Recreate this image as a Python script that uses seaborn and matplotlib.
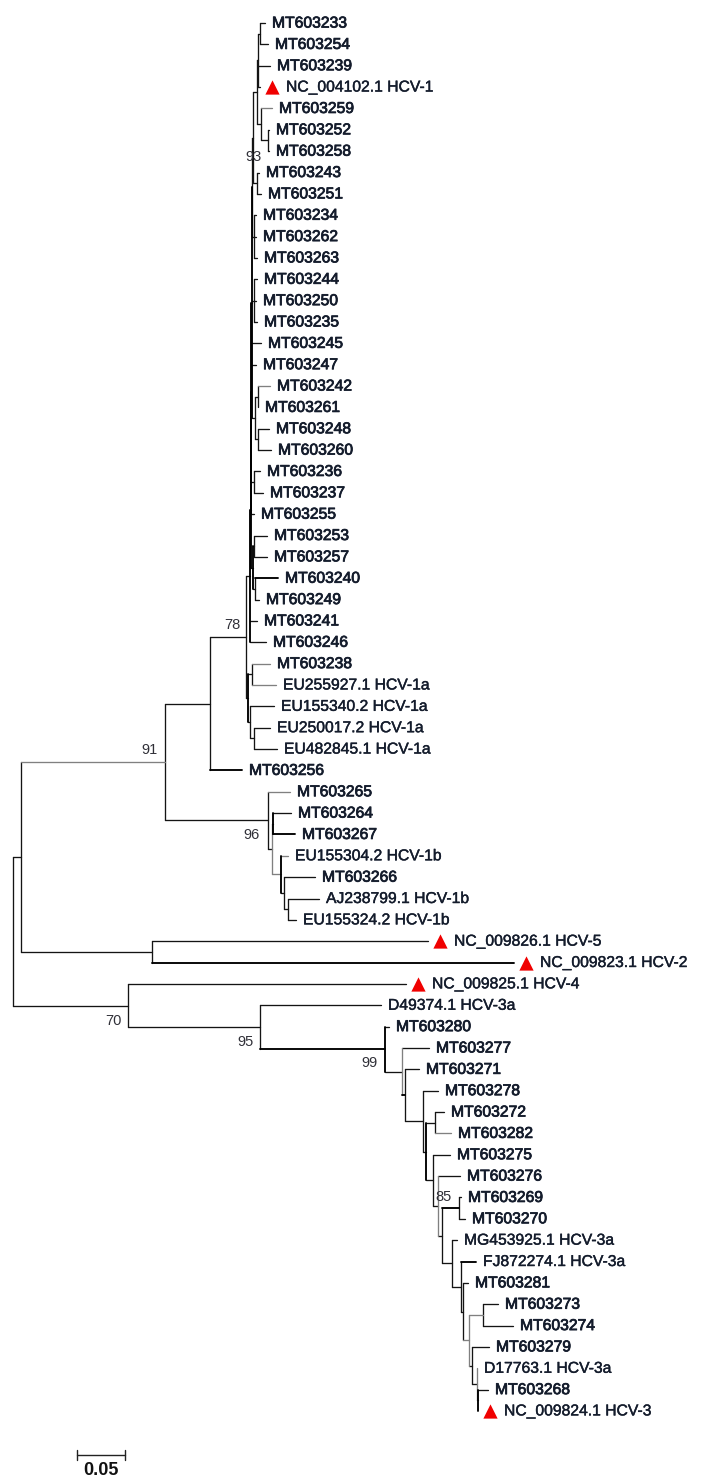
import pandas as pd
import seaborn as sns
import matplotlib.pyplot as plt
import matplotlib.patheffects as pe

# tree depth is counted in units of 0.05/48 substitutions per site, root = 0
UNIT = 0.05 / 48

tip_labels = ['MT603233', 'MT603254', 'MT603239', 'NC_004102.1 HCV-1', 'MT603259', 'MT603252', 'MT603258',
              'MT603243', 'MT603251', 'MT603234', 'MT603262', 'MT603263', 'MT603244', 'MT603250', 'MT603235',
              'MT603245', 'MT603247', 'MT603242', 'MT603261', 'MT603248', 'MT603260', 'MT603236', 'MT603237',
              'MT603255', 'MT603253', 'MT603257', 'MT603240', 'MT603249', 'MT603241', 'MT603246', 'MT603238',
              'EU255927.1 HCV-1a', 'EU155340.2 HCV-1a', 'EU250017.2 HCV-1a', 'EU482845.1 HCV-1a', 'MT603256',
              'MT603265', 'MT603264', 'MT603267', 'EU155304.2 HCV-1b', 'MT603266', 'AJ238799.1 HCV-1b',
              'EU155324.2 HCV-1b', 'NC_009826.1 HCV-5', 'NC_009823.1 HCV-2', 'NC_009825.1 HCV-4',
              'D49374.1 HCV-3a', 'MT603280', 'MT603277', 'MT603271', 'MT603278', 'MT603272', 'MT603282',
              'MT603275', 'MT603276', 'MT603269', 'MT603270', 'MG453925.1 HCV-3a', 'FJ872274.1 HCV-3a',
              'MT603281', 'MT603273', 'MT603274', 'MT603279', 'D17763.1 HCV-3a', 'MT603268',
              'NC_009824.1 HCV-3']
tip_depth = [252, 255, 257, 247, 259, 256, 256,
             246, 248, 243, 243, 244, 244, 243, 244,
             248, 243, 257, 245, 256, 258, 247, 250,
             241, 254, 254, 265, 246, 244, 253, 257,
             263, 261, 257, 264, 229,
             277, 278, 282, 275, 302, 306,
             283, 415, 501, 393,
             368, 376, 416, 406, 425, 431, 438,
             437, 447, 448, 452, 444, 463,
             455, 485, 500, 476, 464, 475,
             465]
tip_parent = ['n0', 'n0', 'a1', 'a1', 'a2', 'n56', 'n56',
              'b', 'b', 'n911', 'n911', 'n911', 'n1214', 'n1214', 'n1214',
              'n4', 'n4', 'n1718', 'n1718', 'n1920', 'n1920', 'n2122', 'n2122',
              'n2a', 'n2425', 'n2425', 'n2627', 'n2627', 's250', 's250', 'n3031',
              'n3031', 'n3234', 'n3334', 'n3334', 'n210',
              'n96', 'n3738', 'n3738', 'n281', 'n284', 'n288',
              'n288', 'n152', 'n152', 'n70',
              'n260', 'n99', 'n402', 'n405', 'n424', 'n435', 'n435',
              'n433', 'n437', 'n459', 'n459', 'n452', 'n461',
              'n463', 'n483', 'n483', 'n472', 'n477', 'n478',
              'n478']

node_names = ['root', 'n21', 'n152', 'n91', 'n210', 'n78', 's250', 'n2', 'n2a', 'n3', 'n4', 'n5', 't93',
              'a', 'b', 'a1', 'n0', 'a2', 'n56', 'n911', 'n1214', 'n1720', 'n1718', 'n1920', 'n2122',
              'n2427', 'n2425', 'n2627', 'n1a', 'n3031', 'n3234', 'n3334', 'n96', 'n272', 'n3738',
              'n281', 'n284', 'n288', 'n70', 'n260', 'n99', 'n402', 'n405', 'n424', 'n426', 'n435',
              'n433', 'n437', 'n442', 'n459', 'n452', 'n461', 'n463', 'n469', 'n483', 'n472', 'n477',
              'n478']
node_depth = [0, 8, 139, 152, 197, 233, 237, 238, 238, 238, 239, 239, 240,
              244, 244, 245, 247, 248, 255, 241, 241, 242, 245, 245, 241,
              240, 241, 242, 235, 239, 237, 241, 255, 259, 260,
              268, 271, 275, 115, 247, 372, 389, 392, 410, 413, 422,
              420, 425, 429, 446, 439, 448, 450, 456, 470, 459, 464,
              465]
node_parent = ['', 'root', 'n21', 'n21', 'n91', 'n210', 'n78', 's250', 'n2', 'n2a', 'n3', 'n4', 'n5',
               't93', 't93', 'a', 'a1', 'a', 'a2', 'n5', 'n4', 'n4', 'n1720', 'n1720', 'n3',
               'n2', 'n2427', 'n2427', 'n78', 'n1a', 'n1a', 'n3234', 'n91', 'n96', 'n272',
               'n272', 'n281', 'n284', 'root', 'n70', 'n260', 'n99', 'n402', 'n405', 'n424', 'n426',
               'n426', 'n433', 'n437', 'n442', 'n442', 'n452', 'n461', 'n463', 'n469', 'n469', 'n472',
               'n477']

support_nodes = ['t93', 'n78', 'n91', 'n96', 'n70', 'n260', 'n99', 'n437']
support_values = ['93', '78', '91', '96', '70', '95', '99', '85']
support_shift = [(0, -19), (-14, 12), (-16, 12), (-16, -15), (-15, -15), (-14, -15), (-15, -14), (5, 9)]

triangle_tips = ['NC_004102.1 HCV-1', 'NC_009826.1 HCV-5', 'NC_009823.1 HCV-2', 'NC_009825.1 HCV-4',
                 'NC_009824.1 HCV-3']

# slightly heavier or paler strokes seen in the picture
heavy_stems = ['s250', 'n2', 'n2a', 'n3', 'n4', 'n1a', 'n281', 'n3738', 'n99', 'n426', 'n478', 'n2427']
heavy_branches = ['MT603256', 'NC_009823.1 HCV-2', 'n99', 'n459', 'n405', 'MT603267', 'MT603240',
                  'FJ872274.1 HCV-3a']
pale_stems = ['n272', 'n469', 'n477', 'n402', 'n437']
pale_branches = ['MT603259', 'MT603242', 'MT603238', 'EU255927.1 HCV-1a', 'MT603265', 'EU155304.2 HCV-1b',
                 'n281', 'n469', 'n483', 'MT603282', 'n91']

sns.set_theme(style='white')
plt.rcParams['font.family'] = ['Liberation Sans', 'DejaVu Sans']

# row position of every clade: midpoint of its first and last child
depth_of = dict(zip(node_names, node_depth))
row_of = {}
for i, label in enumerate(tip_labels):
    row_of[label] = i


def children(name):
    kids = [n for n, p in zip(node_names, node_parent) if p == name]
    kids += [t for t, p in zip(tip_labels, tip_parent) if p == name]
    return kids


def node_row(name):
    if name in row_of:
        return row_of[name]
    rows = [node_row(k) for k in children(name)]
    row_of[name] = (min(rows) + max(rows)) / 2
    return row_of[name]


node_row('root')

segments = []
seg_id = 0
for name in node_names:
    kids = children(name)
    rows = [row_of[k] for k in kids]
    shade = 'heavy' if name in heavy_stems else 'pale' if name in pale_stems else 'normal'
    d = depth_of[name]
    segments += [{'x': d * UNIT, 'y': min(rows), 'seg': seg_id, 'shade': shade},
                 {'x': d * UNIT, 'y': max(rows), 'seg': seg_id, 'shade': shade}]
    seg_id += 1
    for k in kids:
        end = depth_of[k] if k in depth_of else tip_depth[tip_labels.index(k)]
        shade = 'heavy' if k in heavy_branches else 'pale' if k in pale_branches else 'normal'
        segments += [{'x': d * UNIT, 'y': row_of[k], 'seg': seg_id, 'shade': shade},
                     {'x': end * UNIT, 'y': row_of[k], 'seg': seg_id, 'shade': shade}]
        seg_id += 1

tree = pd.DataFrame(segments)

fig = plt.figure(figsize=(7.01, 14.84), dpi=100)
ax = fig.add_axes([0, 0, 1, 1])

shade_styles = [('normal', '#141414', 0.95), ('pale', '#808080', 0.95), ('heavy', '#000000', 1.35)]
for shade, colour, width in shade_styles:
    sns.lineplot(data=tree[tree['shade'] == shade], x='x', y='y', units='seg', estimator=None, sort=False,
                 color=colour, linewidth=width, legend=False, ax=ax)

# reference genomes carry a red triangle
tri = pd.DataFrame({'x': [(tip_depth[tip_labels.index(t)] + 12) * UNIT for t in triangle_tips],
                    'y': [row_of[t] for t in triangle_tips]})
sns.scatterplot(data=tri, x='x', y='y', marker='^', s=105, color='#f00000', linewidth=0, legend=False, ax=ax)

for label, d in zip(tip_labels, tip_depth):
    shift = 26 if label in triangle_tips else 7
    t = ax.text((d + shift) * UNIT, row_of[label], label, fontsize=11.3, va='center', ha='left', color='#141c2c')
    # the source text is a soft semi-bold, heavier on the MT names
    stroke = 0.55 if label.startswith('MT') else 0.3
    t.set_path_effects([pe.withStroke(linewidth=stroke, foreground='#141c2c')])

for name, value, (dx, dy) in zip(support_nodes, support_values, support_shift):
    ax.annotate(value, (depth_of[name] * UNIT, row_of[name]), xytext=(dx, dy), textcoords='offset pixels',
                fontsize=10.5, color='#303038', ha='center', va='center')

# scale bar
bar = pd.DataFrame({'x': [64 * UNIT, 64 * UNIT + 0.05, 64 * UNIT, 64 * UNIT, 64 * UNIT + 0.05, 64 * UNIT + 0.05],
                    'y': [67.05, 67.05, 66.82, 67.28, 66.82, 67.28],
                    'seg': [0, 0, 1, 1, 2, 2]})
sns.lineplot(data=bar, x='x', y='y', units='seg', estimator=None, sort=False, color='#222222', linewidth=1.0,
             legend=False, ax=ax)
ax.text(64 * UNIT + 0.025, 67.77, '0.05', fontsize=13, fontweight='bold', ha='center', va='center', color='#111111')

ax.set_xlim(-13 * UNIT, 688 * UNIT)
ax.set_ylim(68.42, -1.08)
ax.set_axis_off()

plt.savefig('out.png', dpi=100)
plt.close()
